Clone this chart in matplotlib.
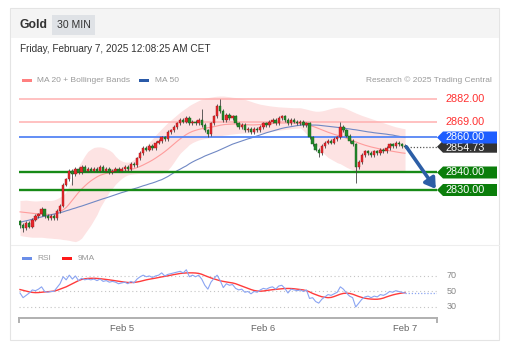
import matplotlib
matplotlib.use('Agg')
import matplotlib.pyplot as plt
from matplotlib.patches import Rectangle, Polygon
from matplotlib.transforms import blended_transform_factory
import numpy as np

plt.rcParams['font.family'] = ['Liberation Sans', 'DejaVu Sans']

# --- data: Gold, 30 min bars ---
opens = [
    2812, 2810, 2808, 2811, 2809, 2813, 2815, 2816, 2819, 2815,
    2814, 2815, 2814, 2818, 2821, 2833, 2836, 2841, 2839, 2842,
    2840, 2843, 2841, 2842, 2841, 2842, 2841, 2843, 2841, 2842,
    2840, 2841, 2842, 2841, 2842, 2843, 2842, 2845, 2844, 2848,
    2851, 2854, 2853, 2855, 2854, 2857, 2858, 2860, 2859, 2863,
    2864, 2866, 2868, 2870, 2869, 2871, 2868, 2869, 2868, 2870,
    2867, 2864, 2862, 2868, 2872, 2878, 2875, 2870, 2873, 2871,
    2872, 2868, 2866, 2867, 2864, 2865, 2863, 2865, 2864, 2866,
    2868, 2867, 2869, 2870, 2868, 2871, 2872, 2870, 2868, 2870,
    2869, 2868, 2869, 2867, 2868, 2860, 2856, 2853, 2851, 2855,
    2857, 2858, 2857, 2859, 2860, 2866, 2864, 2861, 2858, 2856,
    2843, 2846, 2850, 2852, 2851, 2850, 2852, 2851, 2853, 2852,
    2854, 2856, 2855, 2857, 2856, 2855]
highs = [
    2813, 2811, 2812, 2812, 2814, 2816, 2817, 2820, 2819, 2816,
    2816, 2816, 2819, 2822, 2834, 2837, 2842, 2842, 2843, 2843,
    2844, 2844, 2843, 2843, 2843, 2843, 2844, 2844, 2843, 2843,
    2842, 2843, 2843, 2843, 2844, 2844, 2846, 2846, 2849, 2852,
    2855, 2855, 2856, 2856, 2858, 2859, 2861, 2861, 2864, 2865,
    2867, 2869, 2871, 2871, 2872, 2872, 2870, 2870, 2871, 2876,
    2868, 2865, 2869, 2873, 2879, 2882, 2876, 2874, 2874, 2873,
    2873, 2869, 2868, 2868, 2866, 2866, 2866, 2866, 2867, 2869,
    2869, 2870, 2871, 2871, 2872, 2873, 2873, 2871, 2871, 2871,
    2870, 2870, 2870, 2869, 2869, 2861, 2857, 2854, 2856, 2858,
    2859, 2859, 2860, 2861, 2869, 2867, 2865, 2862, 2859, 2857,
    2847, 2851, 2853, 2853, 2852, 2853, 2853, 2854, 2854, 2855,
    2857, 2857, 2858, 2858, 2857, 2856]
lows = [
    2808, 2806, 2807, 2808, 2808, 2812, 2814, 2815, 2814, 2813,
    2813, 2813, 2813, 2817, 2820, 2832, 2835, 2833, 2838, 2839,
    2839, 2840, 2840, 2840, 2840, 2840, 2840, 2840, 2840, 2839,
    2839, 2840, 2840, 2840, 2841, 2841, 2841, 2843, 2843, 2847,
    2850, 2852, 2852, 2853, 2853, 2856, 2857, 2858, 2858, 2862,
    2863, 2865, 2867, 2868, 2868, 2867, 2867, 2867, 2867, 2866,
    2863, 2860, 2861, 2867, 2871, 2874, 2869, 2869, 2870, 2870,
    2867, 2865, 2865, 2863, 2863, 2862, 2862, 2863, 2863, 2865,
    2866, 2866, 2868, 2867, 2867, 2870, 2869, 2867, 2867, 2868,
    2867, 2867, 2866, 2866, 2859, 2855, 2852, 2849, 2850, 2854,
    2856, 2856, 2856, 2858, 2859, 2863, 2860, 2857, 2855, 2834,
    2842, 2845, 2849, 2850, 2849, 2849, 2850, 2850, 2851, 2851,
    2853, 2854, 2854, 2855, 2854, 2854]
closes = [
    2810, 2808, 2811, 2809, 2813, 2815, 2816, 2819, 2815, 2814,
    2815, 2814, 2818, 2821, 2833, 2836, 2841, 2839, 2842, 2840,
    2843, 2841, 2842, 2841, 2842, 2841, 2843, 2841, 2842, 2840,
    2841, 2842, 2841, 2842, 2843, 2842, 2845, 2844, 2848, 2851,
    2854, 2853, 2855, 2854, 2857, 2858, 2860, 2859, 2863, 2864,
    2866, 2868, 2870, 2869, 2871, 2868, 2869, 2868, 2870, 2867,
    2864, 2862, 2868, 2872, 2878, 2875, 2870, 2873, 2871, 2872,
    2868, 2866, 2867, 2864, 2865, 2863, 2865, 2864, 2866, 2868,
    2867, 2869, 2870, 2868, 2871, 2872, 2870, 2868, 2870, 2869,
    2868, 2869, 2867, 2868, 2860, 2856, 2853, 2851, 2855, 2857,
    2858, 2857, 2859, 2860, 2866, 2864, 2861, 2858, 2856, 2843,
    2846, 2850, 2852, 2851, 2850, 2852, 2851, 2853, 2852, 2854,
    2856, 2855, 2857, 2856, 2855, 2854.73]

ma20 = [
    2817.5, 2817.3, 2817.1, 2816.9, 2816.7, 2816.5, 2816.4, 2816.3, 2816.2, 2816.1,
    2816.0, 2816.2, 2816.8, 2817.6, 2818.7, 2820.0, 2822.0, 2824.2, 2826.4, 2828.6,
    2830.5, 2832.2, 2833.8, 2835.2, 2836.4, 2837.5, 2838.4, 2839.0, 2839.5, 2839.8,
    2840.0, 2840.2, 2840.4, 2840.6, 2840.9, 2841.3, 2841.7, 2842.2, 2842.8, 2843.5,
    2844.3, 2845.2, 2846.1, 2847.1, 2848.2, 2849.4, 2850.6, 2851.9, 2853.3, 2854.8,
    2856.3, 2857.8, 2859.2, 2860.5, 2861.7, 2862.7, 2863.5, 2864.1, 2864.6, 2865.0,
    2865.3, 2865.6, 2865.9, 2866.2, 2866.6, 2867.0, 2867.3, 2867.5, 2867.6, 2867.7,
    2867.7, 2867.6, 2867.5, 2867.4, 2867.3, 2867.2, 2867.2, 2867.3, 2867.4, 2867.5,
    2867.6, 2867.8, 2868.0, 2868.1, 2868.2, 2868.3, 2868.3, 2868.3, 2868.3, 2868.2,
    2868.1, 2867.9, 2867.7, 2867.4, 2867.0, 2866.4, 2865.8, 2865.1, 2864.4, 2863.7,
    2863.0, 2862.4, 2861.8, 2861.3, 2860.8, 2860.2, 2859.6, 2858.9, 2858.2, 2857.5,
    2856.8, 2856.2, 2855.6, 2855.1, 2854.6, 2854.2, 2853.8, 2853.4, 2853.0, 2852.7,
    2852.4, 2852.1, 2851.8, 2851.5, 2851.2, 2851.0]
bb_upper = [
    2824.0, 2824.1, 2824.2, 2824.0, 2823.8, 2823.7, 2823.8, 2824.0, 2824.1, 2824.0,
    2824.0, 2824.3, 2825.0, 2826.0, 2827.0, 2829.0, 2832.5, 2836.5, 2840.0, 2843.5,
    2846.5, 2849.5, 2852.0, 2853.3, 2854.3, 2854.6, 2854.6, 2854.3, 2853.6, 2852.8,
    2851.5, 2849.3, 2847.6, 2846.6, 2846.0, 2845.9, 2846.2, 2847.5, 2849.2, 2851.0,
    2853.0, 2855.2, 2857.3, 2859.3, 2861.3, 2863.2, 2865.0, 2866.8, 2868.5, 2870.0,
    2871.5, 2873.0, 2874.5, 2875.8, 2877.0, 2878.3, 2879.3, 2880.2, 2881.1, 2881.8,
    2882.3, 2882.8, 2883.1, 2883.4, 2883.6, 2883.7, 2883.7, 2883.5, 2883.3, 2883.0,
    2882.8, 2882.6, 2882.3, 2881.8, 2881.2, 2880.6, 2880.0, 2879.5, 2879.0, 2878.7,
    2878.4, 2878.1, 2877.9, 2877.7, 2877.5, 2877.4, 2877.3, 2877.2, 2877.1, 2877.0,
    2877.0, 2877.0, 2876.6, 2876.2, 2875.7, 2875.3, 2875.0, 2875.0, 2875.2, 2875.6,
    2876.1, 2876.6, 2877.0, 2877.3, 2877.4, 2877.1, 2876.4, 2875.6, 2874.8, 2874.0,
    2873.3, 2872.6, 2872.0, 2871.4, 2870.8, 2870.2, 2869.6, 2869.0, 2868.4, 2867.8,
    2867.2, 2866.6, 2866.1, 2865.7, 2865.3, 2865.0]
bb_lower = [
    2804.0, 2803.7, 2803.4, 2803.2, 2803.0, 2803.0, 2803.0, 2803.0, 2802.8, 2802.6,
    2802.5, 2802.3, 2802.2, 2802.0, 2801.7, 2801.5, 2801.2, 2800.8, 2800.5, 2801.2,
    2802.5, 2805.0, 2807.5, 2810.0, 2813.0, 2816.0, 2820.0, 2823.0, 2826.0, 2829.0,
    2831.0, 2833.3, 2835.0, 2836.6, 2837.8, 2838.6, 2839.0, 2839.2, 2839.4, 2839.5,
    2839.5, 2839.5, 2839.5, 2839.5, 2839.5, 2839.5, 2839.6, 2840.2, 2841.5, 2843.5,
    2846.0, 2848.6, 2851.0, 2852.7, 2854.3, 2856.0, 2857.1, 2857.9, 2858.6, 2859.0,
    2859.4, 2859.7, 2860.0, 2860.4, 2860.7, 2861.0, 2861.3, 2861.5, 2861.8, 2862.0,
    2862.2, 2862.4, 2862.5, 2862.6, 2862.6, 2862.6, 2862.6, 2862.6, 2862.6, 2862.8,
    2863.0, 2863.3, 2863.6, 2863.9, 2864.2, 2864.4, 2864.6, 2864.8, 2865.0, 2865.2,
    2865.3, 2865.4, 2864.0, 2862.0, 2860.0, 2858.0, 2856.0, 2854.0, 2852.0, 2850.2,
    2848.6, 2847.6, 2846.6, 2845.6, 2845.0, 2844.0, 2843.0, 2842.2, 2841.5, 2840.8,
    2840.2, 2840.0, 2840.0, 2840.0, 2840.0, 2840.0, 2840.0, 2840.0, 2840.1, 2840.2,
    2840.4, 2840.5, 2840.6, 2840.8, 2840.9, 2841.0]
ma50 = [
    2811.5, 2812.0, 2812.4, 2812.8, 2813.3, 2813.7, 2814.2, 2814.6, 2815.0, 2815.4,
    2815.8, 2816.2, 2816.6, 2817.0, 2817.5, 2818.1, 2818.6, 2819.2, 2819.7, 2820.3,
    2820.8, 2821.4, 2822.0, 2822.6, 2823.2, 2823.8, 2824.4, 2825.0, 2825.5, 2826.1,
    2826.7, 2827.3, 2827.9, 2828.5, 2829.0, 2829.6, 2830.2, 2830.7, 2831.2, 2831.8,
    2832.4, 2832.9, 2833.5, 2834.0, 2834.6, 2835.3, 2835.9, 2836.8, 2837.7, 2838.8,
    2839.9, 2841.0, 2841.9, 2842.9, 2843.8, 2845.0, 2846.0, 2846.9, 2847.7, 2848.5,
    2849.4, 2850.1, 2850.8, 2851.5, 2852.2, 2853.0, 2853.8, 2854.6, 2855.4, 2856.2,
    2856.8, 2857.4, 2858.0, 2858.6, 2859.2, 2859.7, 2860.3, 2860.9, 2861.5, 2862.1,
    2862.7, 2863.2, 2863.7, 2864.2, 2864.7, 2865.2, 2865.6, 2865.9, 2866.2, 2866.5,
    2866.8, 2867.0, 2867.2, 2867.2, 2867.2, 2867.1, 2867.1, 2867.0, 2866.8, 2866.6,
    2866.4, 2866.2, 2866.0, 2865.8, 2865.6, 2865.3, 2865.1, 2864.9, 2864.6, 2864.4,
    2864.1, 2863.8, 2863.5, 2863.2, 2863.0, 2862.7, 2862.5, 2862.3, 2862.1, 2861.9,
    2861.6, 2861.4, 2861.0, 2860.7, 2860.3, 2860.0]

rsi = [
    48, 42, 45, 48, 52, 51, 53, 56, 50, 49,
    50, 50, 55, 60, 69, 65, 71, 66, 70, 64,
    67, 65, 66, 65, 66, 64, 66, 63, 64, 62,
    63, 62, 60, 61, 62, 60, 63, 61, 66, 69,
    71, 69, 70, 68, 70, 71, 74, 70, 72, 73,
    74, 75, 76, 74, 78, 69, 71, 69, 71, 66,
    58, 53, 62, 67, 71, 64, 55, 60, 58, 59,
    54, 52, 53, 49, 50, 47, 50, 49, 52, 54,
    53, 55, 56, 53, 57, 58, 54, 48, 53, 52,
    51, 52, 50, 52, 41, 42, 37, 35, 40, 43,
    46, 45, 47, 49, 56, 53, 48, 44, 42, 30,
    35, 40, 43, 44, 42, 44, 43, 46, 45, 47,
    50, 49, 51, 50, 49, 48]
rsi_ma9 = [
    52.5, 51.5, 50.5, 49.5, 48.8, 48.5, 48.6, 49.0, 49.4, 49.7,
    50.0, 50.5, 51.5, 53.0, 54.5, 56.0, 58.0, 60.0, 62.0, 64.0,
    65.5, 66.3, 66.8, 67.0, 67.0, 66.8, 66.5, 66.0, 65.5, 65.0,
    64.4, 63.8, 63.2, 62.6, 62.0, 61.6, 61.5, 61.7, 62.2, 63.0,
    64.0, 65.0, 65.8, 66.5, 67.2, 68.0, 68.8, 69.5, 70.2, 71.0,
    71.8, 72.5, 73.2, 73.6, 73.9, 74.0, 74.0, 73.8, 73.3, 72.2,
    70.5, 69.0, 67.5, 66.2, 65.0, 63.8, 63.0, 62.3, 61.6, 61.0,
    60.0, 58.5, 57.0, 55.5, 54.0, 52.5, 51.3, 50.6, 50.4, 50.6,
    51.2, 51.8, 52.3, 52.7, 53.1, 53.5, 53.8, 53.9, 53.8, 53.5,
    53.0, 52.5, 52.0, 51.0, 49.5, 47.5, 46.0, 44.5, 43.2, 42.5,
    42.0, 42.3, 43.5, 45.0, 46.5, 47.5, 47.8, 47.5, 46.5, 45.0,
    43.5, 42.3, 41.3, 40.6, 40.2, 40.0, 40.0, 40.5, 41.5, 43.0,
    44.3, 45.5, 46.5, 47.3, 48.0, 48.5]

tick_pos = [33, 79, 125]
tick_labels = ['Feb 5', 'Feb 6', 'Feb 7']

resist_levels = [2882.00, 2869.00]
pivot_level = 2860.00
last_price = 2854.73
support_levels = [2840.00, 2830.00]
rsi_levels = [70, 50, 30]

# --- figure ---
W, H = 508, 358
fig = plt.figure(figsize=(W / 100, H / 100), dpi=100)
fig.patch.set_facecolor('white')


def fx(x):
    return x / W


def fy(y):
    return 1 - y / H


def box(x, y, w, h, color, **kw):
    # rectangle given in pixels from the top-left corner
    fig.add_artist(Rectangle((fx(x), fy(y + h)), w / W, h / H, transform=fig.transFigure,
                             facecolor=color, zorder=-5, **kw))


# card and header
box(10, 8, 489, 332, 'white', edgecolor='#e4e4e4', lw=0.8)
box(10.5, 8.5, 488, 29.5, '#f4f4f4', edgecolor='none')
box(52, 15, 43, 19.5, '#dfe2e6', edgecolor='none')
fig.text(fx(19), fy(24.5), 'Gold', fontsize=8.8, fontweight='bold', color='#333333', va='center')
fig.text(fx(73.5), fy(24.5), '30 MIN', fontsize=7.6, color='#333333', va='center', ha='center')
fig.text(fx(20.5), fy(49), 'Friday, February 7, 2025 12:08:25 AM CET', fontsize=7.2,
         color='#333333', va='center')

# legends
box(22, 78.5, 10, 3, '#ff8080', edgecolor='none')
fig.text(fx(37), fy(80), 'MA 20 + Bollinger Bands', fontsize=6.0, color='#999999', va='center')
box(139, 78.5, 10, 3, '#2a5aa8', edgecolor='none')
fig.text(fx(155), fy(80), 'MA 50', fontsize=6.0, color='#999999', va='center')
fig.text(fx(492), fy(80), 'Research \u00a9 2025 Trading Central', fontsize=6.0,
         color='#999999', va='center', ha='right')

box(22, 256.5, 10, 3, '#6b8ee8', edgecolor='none')
fig.text(fx(37), fy(258), 'RSI', fontsize=6.0, color='#999999', va='center')
box(62, 256.5, 10, 3, '#ff1a1a', edgecolor='none')
fig.text(fx(78), fy(258), '9MA', fontsize=6.0, color='#999999', va='center')

# separator between panels
fig.add_artist(plt.Line2D([fx(10.5), fx(498.5)], [fy(245), fy(245)], transform=fig.transFigure,
                          color='#eeeeee', lw=0.8, zorder=-4))

# --- price panel ---
ax = fig.add_axes([fx(19), fy(245), fx(418), 155 / H])
ax.set_xlim(-0.325, 135.39)
ax.set_ylim(2798.57, 2887.14)
ax.axis('off')
idx = np.arange(len(closes))
o = np.array(opens, dtype=float)
c = np.array(closes, dtype=float)

ax.fill_between(idx, bb_lower, bb_upper, color='#fde3e3', lw=0, zorder=1)
ax.plot(idx, ma20, color='#ff9c9c', lw=0.8, zorder=2)
ax.plot(idx, ma50, color='#7088c4', lw=0.8, zorder=2)

for lvl in resist_levels:
    ax.axhline(lvl, color='#ffb0b0', lw=1.1, zorder=2)
ax.axhline(pivot_level, color='#5585f5', lw=1.3, zorder=2)
for lvl in support_levels:
    ax.axhline(lvl, color='#178a17', lw=1.7, zorder=2)

up = c >= o
colors = np.where(up, '#e8262b', '#23892a')
edges = np.where(up, '#9a1a1d', '#145a18')
ax.vlines(idx, lows, highs, color='#444444', lw=0.6, zorder=3)
ax.bar(idx, np.maximum(np.abs(c - o), 0.4), bottom=np.minimum(o, c), width=0.78,
       color=colors, edgecolor=edges, lw=0.3, zorder=4)

ax.plot([idx[-1] + 0.5, 135.39], [last_price, last_price], color='#555555', lw=0.9,
        ls=(0, (1, 1.5)), zorder=3)
ax.annotate('', xy=(135.0, support_levels[1] + 0.6), xytext=(idx[-1] + 0.4, last_price),
            arrowprops=dict(arrowstyle='-|>,head_length=0.6,head_width=0.38',
                            color='#2c5ea6', lw=2.6, shrinkA=0, shrinkB=0), zorder=5)

# right side labels
tr = blended_transform_factory(ax.transAxes, ax.transData)
unit_px = 155 / (2887.14 - 2798.57)
hh = 6.0 / unit_px
x0, xp, x1 = 1.0, 1 + 6 / 418, 1 + 60 / 418
xt = 1 + 9 / 418
for lvl in resist_levels:
    ax.text(xt, lvl, f'{lvl:.2f}', transform=tr, color='#ff3030', fontsize=7.8,
            va='center', ha='left', clip_on=False)
# (level, colour, drawing order, text shift in px)
tags = [(last_price, '#333333', 6, -1.3), (pivot_level, '#1e5eff', 7, 0.0),
        (support_levels[0], '#0b7e0b', 6, 0.0), (support_levels[1], '#0b7e0b', 6, 0.0)]
for lvl, col, z, shift in tags:
    poly = Polygon([(x0, lvl), (xp, lvl + hh), (x1, lvl + hh), (x1, lvl - hh), (xp, lvl - hh)],
                   closed=True, transform=tr, facecolor=col, edgecolor='none', clip_on=False,
                   zorder=z)
    ax.add_patch(poly)
    ax.text(xt, lvl + shift / unit_px, f'{lvl:.2f}', transform=tr, color='white', fontsize=7.8,
            va='center', ha='left', clip_on=False, zorder=z + 0.5)

# --- RSI panel ---
ax2 = fig.add_axes([fx(19), fy(318), fx(418), 56 / H])
ax2.patch.set_alpha(0)
ax2.set_xlim(-0.325, 135.39)
ax2.set_ylim(15.8, 88)
for s in ['top', 'left', 'right']:
    ax2.spines[s].set_visible(False)
ax2.spines['bottom'].set_color('#b0b0b0')
ax2.spines['bottom'].set_linewidth(1.4)
ax2.set_yticks([])
ax2.set_xticks(tick_pos)
ax2.set_xticklabels(tick_labels, fontsize=6.8, color='#666666')
ax2.tick_params(axis='x', length=0, pad=4)
for xe in [0, 1]:
    ax2.plot([xe, xe], [0, -0.07], transform=ax2.transAxes, color='#b0b0b0', lw=1.4,
             clip_on=False)

tr2 = blended_transform_factory(ax2.transAxes, ax2.transData)
for lvl in rsi_levels:
    ax2.axhline(lvl, color='#c4c4c4', lw=0.8, ls=(0, (1, 2.5)), zorder=1)
    ax2.text(1 + 10 / 418, lvl, str(lvl), transform=tr2,
             fontsize=6.5, color='#888888', va='center', ha='left', clip_on=False)

ax2.plot(idx, rsi, color='#8aa4f2', lw=0.8, zorder=3)
ax2.plot(idx, rsi_ma9, color='#ff3b3b', lw=1.0, zorder=2)
ax2.plot([idx[-1], 135.39], [rsi[-1], rsi[-1]], color='#8aa4f2', lw=0.9,
         ls=(0, (1, 1.5)), zorder=3)

fig.savefig('out.png', dpi=100)
